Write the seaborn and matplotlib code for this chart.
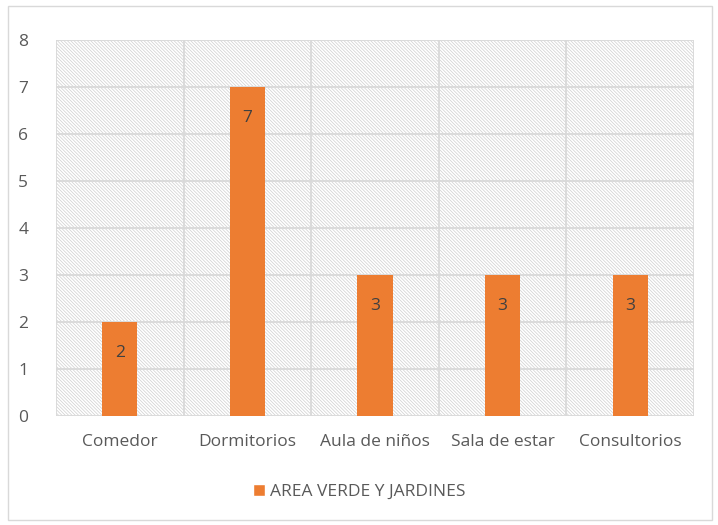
import matplotlib
matplotlib.use("Agg")
import matplotlib.pyplot as plt
from matplotlib.patches import Rectangle
import seaborn as sns
import pandas as pd

categories = ["Comedor", "Dormitorios", "Aula de niños", "Sala de estar", "Consultorios"]
values = [2, 7, 3, 3, 3]
series_name = "AREA VERDE Y JARDINES"
y_ticks = [0, 1, 2, 3, 4, 5, 6, 7, 8]

df = pd.DataFrame({"categoria": categories, "valor": values, "serie": series_name})

sns.set_theme(style="white")
plt.rcParams["font.family"] = ["Open Sans", "DejaVu Sans"]
plt.rcParams["hatch.linewidth"] = 0.5
plt.rcParams["hatch.color"] = "#d0d0d0"

text_color = "#595959"
grid_color = "#d9d9d9"
bar_color = "#ed7d31"

fig = plt.figure(figsize=(7.18, 5.25), dpi=100)
# outer chart frame
fig.patches.append(Rectangle((8 / 718, 5 / 525), 704 / 718, 514 / 525, transform=fig.transFigure,
                             fill=False, edgecolor="#d9d9d9", linewidth=1.0))
ax = fig.add_axes([56 / 718, 109 / 525, 638 / 718, 376 / 525])

# hatched plot-area background
ax.add_patch(Rectangle((0, 0), 1, 1, transform=ax.transAxes, facecolor="white",
                       edgecolor="#cfcfcf", hatch="\\" * 10, linewidth=0, zorder=0))

sns.barplot(data=df, x="categoria", y="valor", hue="serie", palette=[bar_color],
            width=0.275, ax=ax, saturation=1, zorder=3, linewidth=0, edgecolor="none")

ax.set_xlim(-0.5, len(categories) - 0.5)
ax.set_ylim(0, 8)
ax.set_yticks(y_ticks)
ax.set_xlabel("")
ax.set_ylabel("")

for y in y_ticks:
    ax.axhline(y, color=grid_color, linewidth=1.3, zorder=1)
for i in range(len(categories) + 1):
    ax.axvline(i - 0.5, color=grid_color, linewidth=1.3, zorder=1)

for s in ax.spines.values():
    s.set_visible(False)

ax.tick_params(axis="both", length=0, labelsize=12.5, colors=text_color)
ax.tick_params(axis="x", pad=13)
ax.tick_params(axis="y", pad=20)

for container in ax.containers:
    ax.bar_label(container, labels=[str(v) for v in values], padding=-28,
                 fontsize=12.5, color="#404040")

ax.legend_.remove()
handle = Rectangle((0, 0), 1, 1, facecolor=bar_color)
fig.legend([handle], [series_name], loc="center", bbox_to_anchor=(0.5, 1 - 492 / 525),
           frameon=False, fontsize=12.5, labelcolor=text_color, handlelength=0.7,
           handleheight=0.7, handletextpad=0.3)

fig.savefig("out.png", dpi=100, facecolor="white")
